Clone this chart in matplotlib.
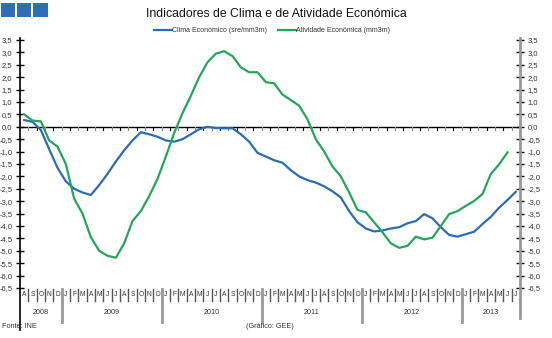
import matplotlib
matplotlib.use("Agg")
import matplotlib.pyplot as plt
import numpy as np
from matplotlib.patches import Rectangle

# months Aug 2008 .. Jul 2013
month_letters = ["A", "S", "O", "N", "D"] + \
    ["J", "F", "M", "A", "M", "J", "J", "A", "S", "O", "N", "D"] * 4 + \
    ["J", "F", "M", "A", "M", "J", "J"]
years = ["2008", "2009", "2010", "2011", "2012", "2013"]
year_months = [5, 12, 12, 12, 12, 7]

clima = [0.27, 0.2, -0.13, -0.9, -1.65, -2.2, -2.5, -2.65, -2.75, -2.35,
         -1.9, -1.4, -0.95, -0.55, -0.22, -0.3, -0.4, -0.55, -0.6, -0.5,
         -0.3, -0.1, 0.0, -0.05, -0.06, -0.06, -0.3, -0.6, -1.05, -1.2,
         -1.35, -1.45, -1.75, -2.0, -2.15, -2.25, -2.4, -2.6, -2.85, -3.4,
         -3.85, -4.1, -4.22, -4.18, -4.1, -4.05, -3.89, -3.8, -3.52, -3.69,
         -4.05, -4.36, -4.43, -4.33, -4.23, -3.92, -3.63, -3.26, -2.95, -2.62]
atividade = [0.5, 0.25, 0.22, -0.55, -0.8, -1.5, -2.9, -3.5, -4.45, -5.0,
             -5.2, -5.28, -4.7, -3.8, -3.4, -2.8, -2.1, -1.2, -0.25, 0.55,
             1.25, 2.0, 2.6, 2.95, 3.05, 2.85, 2.4, 2.2, 2.2, 1.8,
             1.75, 1.3, 1.08, 0.85, 0.3, -0.5, -1.0, -1.6, -2.0, -2.65,
             -3.35, -3.45, -3.85, -4.25, -4.7, -4.88, -4.8, -4.43, -4.54, -4.47,
             -4.0, -3.52, -3.4, -3.19, -2.99, -2.71, -1.9, -1.51, -1.03, np.nan]

W, H = 552, 338
fig = plt.figure(figsize=(W / 100, H / 100), dpi=100)
plt.rcParams["font.family"] = ["Liberation Sans", "DejaVu Sans"]

# axes in pixel layout
x0, x1, ytop, ybot = 20, 520, 38, 330
ax = fig.add_axes([x0 / W, 1 - ybot / H, (x1 - x0) / W, (ybot - ytop) / H])
ppu = 24.8  # pixels per unit
y_zero = 126.8
ax.set_xlim(-0.5, len(month_letters) - 0.5)
ax.set_ylim((y_zero - ybot) / ppu, (y_zero - ytop) / ppu)
for s in ax.spines.values():
    s.set_visible(False)


def py(p):
    return (y_zero - p) / ppu


n = len(month_letters)
x = np.arange(n)
blue = "#2a6db5"
green = "#25a65a"
ax.plot(x, clima, color=blue, lw=1.6, label="Clima Económico (sre/mm3m)", zorder=3)
ax.plot(x, atividade, color=green, lw=1.6, label="Atividade Económica (mm3m)", zorder=3)

# zero line and its ticks
ax.axhline(0, color="black", lw=1, zorder=2)
for k in range(n - 1):
    ax.plot([k + 0.5, k + 0.5], [0, py(y_zero + 3)], color="black" if k % 2 else "#888888",
            lw=0.8, zorder=2)

# axis lines
ax.plot([-0.5, -0.5], [py(ytop), py(ybot)], color="black", lw=1.2, clip_on=False)
ax.plot([n - 0.5, n - 0.5], [py(ytop), py(318)], color="#999999", lw=2, clip_on=False)

yt = np.arange(-6.5, 3.51, 0.5)
ax.set_yticks(yt)
ax.set_yticklabels([("%.1f" % v).replace(".", ",") for v in yt])
ax.set_xticks([])
ax.tick_params(axis="y", which="both", direction="inout", length=6, width=1,
               labelsize=5.5, labelcolor="#333333", pad=2.5,
               left=True, right=True, labelleft=True, labelright=True)
for i, t in enumerate(ax.yaxis.get_major_ticks()):
    t.tick1line.set_color("black" if i % 2 == 0 else "#888888")
    t.tick2line.set_color("#888888")

# month labels
for k, m in enumerate(month_letters):
    ax.text(k, py(295), m, ha="center", va="center", fontsize=4.8, color="#333333")
    if k > 0:
        ax.plot([k - 0.5, k - 0.5], [py(289), py(301)], color="#555555", lw=1.0,
                clip_on=False)
start = 0
for yr, cnt in zip(years, year_months):
    ax.text(start + (cnt - 1) / 2, py(312), yr, ha="center", va="center",
            fontsize=5.2, color="#333333")
    if start > 0:
        ax.plot([start - 0.5, start - 0.5], [py(289), py(322)], color="#999999", lw=2,
                clip_on=False)
    start += cnt

# title, legend, notes
fig.text(276 / W, 1 - 14 / H, "Indicadores de Clima e de Atividade Económica",
         ha="center", va="center", fontsize=8.8, color="#111111")
fig.legend(loc="center", bbox_to_anchor=(272 / W, 1 - 31 / H), ncol=2, frameon=False,
           fontsize=5, handlelength=2.6, handletextpad=0.1, columnspacing=1.5,
           labelcolor="#333333")
fig.text(2 / W, 1 - 326 / H, "Fonte: INE", ha="left", va="center", fontsize=5.2,
         color="#333333")
fig.text(270 / W, 1 - 326 / H, "(Gráfico: GEE)", ha="center", va="center", fontsize=5.2,
         color="#333333")

# blue squares top-left
for i in range(3):
    fig.add_artist(Rectangle(((0.5 + i * 16.3) / W, 1 - 17 / H), 14.5 / W, 13.5 / H,
                             transform=fig.transFigure, facecolor="#2f6fb7",
                             edgecolor="none", linewidth=0))

fig.savefig("out.png", dpi=100)
